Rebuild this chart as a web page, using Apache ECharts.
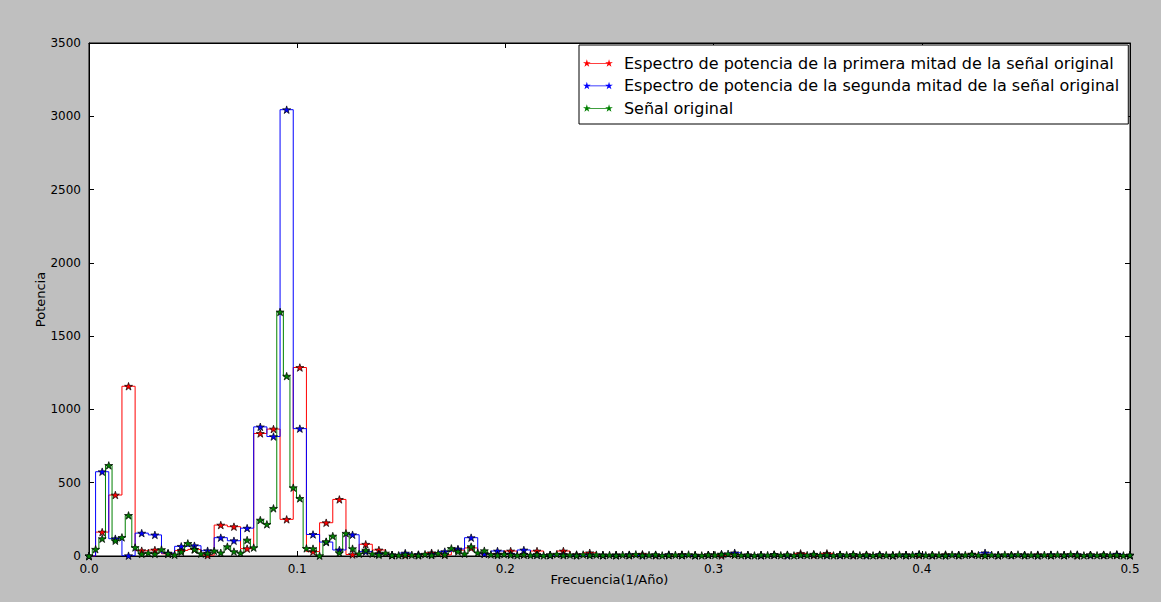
<!DOCTYPE html>
<html>
<head>
<meta charset="utf-8">
<script src="https://cdn.jsdelivr.net/npm/echarts@6.0.0/dist/echarts.min.js"></script>
<style>
  html, body { margin: 0; padding: 0; background: #bfbfbf; }
  #chart { width: 1161px; height: 602px; }
</style>
</head>
<body>
<div id="chart"></div>
<script>
// Power spectra (steps-mid) of the first half, the second half and the whole signal.
// Half-signal spectra are sampled every 1/158 year^-1, the whole signal every 1/316 year^-1.
const HALF_LEN = 158;
const FULL_LEN = 316;

const potenciaPrimera = [
  0, 163, 416, 1158, 36, 41, 15, 38, 45, 6,
  211, 200, 50, 836, 866, 250, 1286, 30, 227, 386,
  10, 80, 41, 6, 5, 8, 22, 8, 40, 55,
  15, 12, 34, 10, 34, 8, 34, 10, 22, 6,
  8, 5, 12, 4, 6, 10, 5, 7, 3, 9,
  6, 4, 8, 5, 18, 6, 18, 7, 4, 9,
  5, 3, 8, 6, 4, 10, 5, 12, 6, 4,
  7, 5, 9, 4, 6, 3, 8, 5, 7, 4
];

const potenciaSegunda = [
  0, 575, 118, 2, 156, 144, 20, 66, 70, 36,
  125, 104, 190, 881, 815, 3045, 869, 147, 95, 41,
  145, 30, 15, 8, 20, 10, 12, 30, 48, 125,
  15, 34, 12, 41, 8, 6, 10, 5, 8, 6,
  5, 9, 4, 7, 10, 6, 4, 8, 12, 22,
  6, 5, 9, 4, 7, 10, 5, 6, 8, 4,
  9, 5, 7, 12, 6, 4, 8, 10, 22, 6,
  5, 8, 4, 9, 6, 10, 5, 7, 12, 6
];

const potenciaOriginal = [
  0, 46, 118, 618, 104, 127, 277, 58, 14, 20,
  14, 44, 16, 8, 28, 86, 45, 16, 18, 35,
  22, 64, 30, 20, 109, 57, 245, 216, 325, 1665,
  1227, 466, 393, 52, 50, 2, 98, 136, 22, 155,
  50, 15, 40, 15, 8, 20, 6, 5, 10, 8,
  4, 12, 6, 18, 10, 52, 30, 15, 64, 22,
  36, 10, 6, 12, 8, 5, 10, 6, 9, 4,
  7, 12, 5, 8, 4, 10, 6, 9, 5, 7,
  4, 8, 6, 11, 5, 7, 9, 4, 6, 8,
  5, 10, 6, 4, 8, 7, 12, 15, 9, 5,
  7, 4, 8, 6, 10, 5, 9, 4, 7, 6,
  12, 5, 8, 4, 9, 6, 11, 5, 7, 4,
  8, 6, 5, 9, 4, 7, 10, 5, 8, 6,
  4, 9, 5, 7, 12, 6, 4, 8, 5, 9,
  6, 10, 5, 7, 4, 8, 6, 9, 5, 11,
  6, 4, 8, 5, 9, 6, 7, 4, 6
];

const nombres = [
  'Espectro de potencia de la primera mitad de la señal original',
  'Espectro de potencia de la segunda mitad de la señal original',
  'Señal original'
];
const colores = ['#ff0000', '#0000ff', '#008000'];

const xTicks = [0, 0.1, 0.2, 0.3, 0.4, 0.5];
const yTicks = [0, 500, 1000, 1500, 2000, 2500, 3000, 3500];

// frequency of bin k for a record of the given length
const pares = (valores, n) => valores.map((v, k) => [k / n, v]);

// five-pointed star marker
const STAR = 'path://M0,-4L0.898,-1.236L3.804,-1.236L1.453,0.472L2.351,3.236L0,1.528L-2.351,3.236L-1.453,0.472L-3.804,-1.236L-0.898,-1.236Z';
// legend handle: short line with a star at each end
const LEGEND_ICON = 'path://M4,0L4.898,2.764L7.804,2.764L5.453,4.472L6.351,7.236L4,5.528L1.649,7.236L2.547,4.472L0.196,2.764L3.102,2.764Z' +
  'M26,0L26.898,2.764L29.804,2.764L27.453,4.472L28.351,7.236L26,5.528L23.649,7.236L24.547,4.472L22.196,2.764L25.102,2.764Z' +
  'M4,3.55L26,3.55L26,4.45L4,4.45Z';

const FONT = 'DejaVu Sans';

function serie(i, valores, n) {
  return {
    name: nombres[i],
    type: 'line',
    step: 'middle',
    data: pares(valores, n),
    symbol: STAR,
    symbolSize: 8,
    symbolKeepAspect: true,
    showAllSymbol: true,
    lineStyle: { color: colores[i], width: 1 },
    itemStyle: { color: colores[i], borderColor: '#000', borderWidth: 0.7 },
    emphasis: { disabled: true },
    xAxisIndex: 0,
    yAxisIndex: 0
  };
}

const ejeX = (pos, etiquetas) => ({
  type: 'value',
  position: pos,
  min: xTicks[0],
  max: xTicks[xTicks.length - 1],
  interval: 0.1,
  axisLine: { show: true, onZero: false, lineStyle: { color: '#000', width: 1 } },
  axisTick: { show: true, inside: true, length: 5, lineStyle: { color: '#000' } },
  axisLabel: {
    show: etiquetas, margin: 7, color: '#000', fontFamily: FONT, fontSize: 12,
    formatter: v => v.toFixed(1)
  },
  splitLine: { show: false }
});

const ejeY = (pos, etiquetas) => ({
  type: 'value',
  position: pos,
  min: yTicks[0],
  max: yTicks[yTicks.length - 1],
  interval: 500,
  axisLine: { show: true, onZero: false, lineStyle: { color: '#000', width: 1 } },
  axisTick: { show: true, inside: true, length: 5, lineStyle: { color: '#000' } },
  axisLabel: {
    show: etiquetas, margin: 8, color: '#000', fontFamily: FONT, fontSize: 12,
    formatter: v => String(Math.round(v))
  },
  splitLine: { show: false }
});

const chart = echarts.init(document.getElementById('chart'), null, { renderer: 'svg' });

chart.setOption({
  animation: false,
  backgroundColor: '#bfbfbf',
  grid: {
    left: 89, top: 43, right: 31, bottom: 46,
    show: true, backgroundColor: '#ffffff', borderColor: '#000', borderWidth: 1
  },
  xAxis: [
    Object.assign(ejeX('bottom', true), {
      name: 'Frecuencia(1/Año)', nameLocation: 'middle', nameGap: 17, nameMoveOverlap: false,
      nameTextStyle: { color: '#000', fontFamily: FONT, fontSize: 13 }
    }),
    ejeX('top', false)
  ],
  yAxis: [
    Object.assign(ejeY('left', true), {
      name: 'Potencia', nameLocation: 'middle', nameGap: 42, nameMoveOverlap: false,
      nameTextStyle: { color: '#000', fontFamily: FONT, fontSize: 13 }
    }),
    ejeY('right', false)
  ],
  legend: {
    orient: 'vertical',
    left: 579,
    top: 45,
    padding: [9, 9, 7, 4],
    itemGap: 4.5,
    itemWidth: 30,
    itemHeight: 7.3,
    icon: LEGEND_ICON,
    backgroundColor: '#ffffff',
    borderColor: '#000',
    borderWidth: 1,
    borderRadius: 0,
    selectedMode: false,
    itemStyle: { borderWidth: 0 },
    textStyle: { color: '#000', fontFamily: FONT, fontSize: 16, lineHeight: 18, padding: [0, 0, 0, 6] },
    data: nombres
  },
  series: [
    serie(0, potenciaPrimera, HALF_LEN),
    serie(1, potenciaSegunda, HALF_LEN),
    serie(2, potenciaOriginal, FULL_LEN)
  ]
});
</script>
</body>
</html>
